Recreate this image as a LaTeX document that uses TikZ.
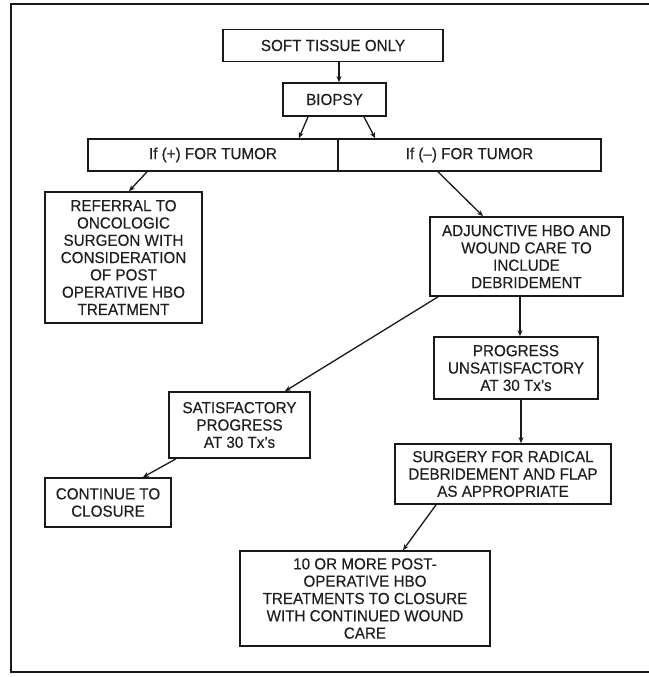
\documentclass[tikz,border=0pt]{standalone}
\usepackage{fontspec}
\setmainfont{Liberation Sans}[FakeStretch=0.95,FakeBold=0.25]
\usetikzlibrary{arrows.meta,calc}
\begin{document}
\begin{tikzpicture}[x=1pt,y=-1pt,
  box/.style={draw=black!90,line width=1.7pt,align=center,inner sep=0pt,
    font=\fontsize{16}{17.3}\selectfont,text=black!88},
  arr/.style={draw=black!90,line width=1.3pt,-{Stealth[length=6pt,width=5pt]}},
  frame/.style={draw=black!90,line width=1.8pt}
]
\useasboundingbox (0,0) rectangle (648,677);
\fill[white] (0,0) rectangle (648,677);
\draw[frame] (649,4) -- (11,4) -- (11,672) -- (649,672);

\node[box,minimum width=220pt,minimum height=32pt] (soft) at (333,45.5) {SOFT TISSUE ONLY};
\node[box,minimum width=103pt,minimum height=33pt] (biopsy) at (334.5,99.5) {BIOPSY};
\node[box,minimum width=250pt,minimum height=32pt] (ifpos) at (213,155) {If (+) FOR TUMOR};
\node[box,minimum width=263pt,minimum height=32pt] (ifneg) at (469.5,155) {If (–) FOR TUMOR};
\node[box,minimum width=157pt,minimum height=131pt] (referral) at (123.5,257.5)
  {REFERRAL TO\\ONCOLOGIC\\SURGEON WITH\\CONSIDERATION\\OF POST\\OPERATIVE HBO\\TREATMENT};
\node[box,minimum width=193pt,minimum height=79pt] (adjunct) at (526.5,256.5)
  {ADJUNCTIVE HBO AND\\WOUND CARE TO\\INCLUDE\\DEBRIDEMENT};
\node[box,minimum width=164pt,minimum height=62pt] (progress) at (516,368)
  {PROGRESS\\UNSATISFACTORY\\AT 30 Tx's};
\node[box,minimum width=141pt,minimum height=66pt] (satisf) at (239.5,425)
  {SATISFACTORY\\PROGRESS\\AT 30 Tx's};
\node[box,minimum width=216pt,minimum height=60pt] (surgery) at (503,474)
  {SURGERY FOR RADICAL\\DEBRIDEMENT AND FLAP\\AS APPROPRIATE};
\node[box,minimum width=126pt,minimum height=49pt] (continue) at (108,502.5)
  {CONTINUE TO\\CLOSURE};
\node[box,minimum width=250pt,minimum height=95pt] (tenmore) at (365,598.5)
  {10 OR MORE POST-\\OPERATIVE HBO\\TREATMENTS TO CLOSURE\\WITH CONTINUED WOUND\\CARE};

\draw[arr] ([xshift=6pt]soft.south) -- ([xshift=4.5pt]biopsy.north);
\draw[arr] ([xshift=-26.5pt]biopsy.south) -- ([xshift=-40pt]ifpos.north east);
\draw[arr] ([xshift=29.5pt]biopsy.south) -- ([xshift=38pt]ifneg.north west);
\draw[arr] ([xshift=-66pt]ifpos.south) -- ([xshift=5.5pt]referral.north);
\draw[arr] ([xshift=-31.5pt]ifneg.south) -- ([xshift=-43.5pt]adjunct.north);
\draw[arr] ([xshift=-88.5pt]adjunct.south) -- ([xshift=45.5pt]satisf.north);
\draw[arr] ([xshift=-6.5pt]adjunct.south) -- ([xshift=4pt]progress.north);
\draw[arr] ([xshift=5pt]progress.south) -- ([xshift=18pt]surgery.north);
\draw[arr] ([xshift=-63.5pt]satisf.south) -- ([xshift=35pt]continue.north);
\draw[arr] ([xshift=-67pt]surgery.south) -- ([xshift=38pt]tenmore.north);
\end{tikzpicture}
\end{document}
